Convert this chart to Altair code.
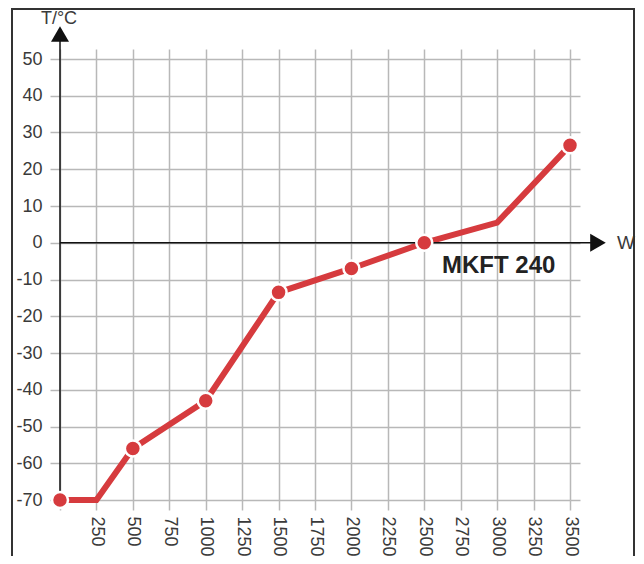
import altair as alt
import pandas as pd

# Data
power = [0, 250, 500, 1000, 1500, 2000, 2500, 3000, 3500]
temp = [-70, -70, -56, -43, -13.5, -7, 0, 5.5, 26.5]
marker = [True, False, True, True, True, True, True, False, True]

x_ticks = list(range(0, 3501, 250))
y_ticks = list(range(-70, 51, 10))

series_label = "MKFT 240"
x_title = "W"
y_title = "T/°C"

df = pd.DataFrame({"P": power, "T": temp, "m": marker})
one = pd.DataFrame({"k": [0]})

FONT = "Liberation Sans"
RED = "#d63b3e"
GRID = "#b8b8b8"
TXT = "#3a3a3a"
AX = "#111111"

xs = alt.Scale(domain=[0, 3500], nice=False, zero=False)
ys = alt.Scale(domain=[-70, 50], nice=False, zero=False)

common = dict(
    gridColor=GRID, gridWidth=1.5, tickColor=GRID, tickWidth=1.5, tickSize=10,
    domain=False, labelFont=FONT, labelFontSize=18, labelColor=TXT,
    labelOverlap=False, labelFlush=False, title=None,
)

base = alt.Chart(df)

line = base.mark_line(color=RED, strokeWidth=6, strokeJoin="miter").encode(
    x=alt.X("P:Q", scale=xs, axis=alt.Axis(
        orient="bottom", values=x_ticks, grid=True, labelAngle=90,
        labelAlign="left", labelBaseline="middle", labelPadding=6,
        labelExpr="datum.value == 0 ? '' : '' + datum.value", **common)),
    y=alt.Y("T:Q", scale=ys, axis=alt.Axis(
        orient="left", values=y_ticks, grid=True, labelPadding=8,
        labelExpr="'' + datum.value", **common)),
)

ghost = base.mark_point(opacity=0).encode(
    x=alt.X("P:Q", scale=xs, axis=alt.Axis(
        orient="top", values=x_ticks, grid=False, labels=False, **common)),
    y=alt.Y("T:Q", scale=ys, axis=alt.Axis(
        orient="right", values=y_ticks, grid=False, labels=False, **common)),
)

points = base.transform_filter("datum.m").mark_point(
    shape="circle", filled=True, fill=RED, stroke="white", strokeWidth=2.5,
    size=256, opacity=1,
).encode(
    x=alt.X("P:Q", scale=xs, axis=None),
    y=alt.Y("T:Q", scale=ys, axis=None),
)

deco = alt.Chart(one)

# axis lines with arrows
yline = deco.mark_rule(color=AX, strokeWidth=1.5).encode(
    x=alt.value(0), y=alt.value(-18), y2=alt.value(441))
yarrow = deco.mark_point(shape="triangle-up", filled=True, fill=AX,
                         opacity=1, size=324, strokeWidth=0).encode(
    x=alt.value(0), y=alt.value(-25))
xline = deco.mark_rule(color=AX, strokeWidth=1.5).encode(
    x=alt.value(0), x2=alt.value(532), y=alt.YDatum(0, scale=ys, axis=None))
xarrow = deco.mark_point(shape="triangle-right", filled=True, fill=AX,
                         opacity=1, size=324, strokeWidth=0).encode(
    x=alt.value(538), y=alt.YDatum(0, scale=ys, axis=None))

xlab = deco.mark_text(text=x_title, font=FONT, fontSize=19, color=TXT,
                      align="left", baseline="middle").encode(
    x=alt.value(557), y=alt.YDatum(0, scale=ys, axis=None))
ylab = deco.mark_text(text=y_title, font=FONT, fontSize=18, color=TXT,
                      align="center", baseline="alphabetic").encode(
    x=alt.value(-1), y=alt.value(-35))

name = deco.mark_text(text=series_label, font=FONT, fontSize=24,
                      fontWeight="bold", color="#222222",
                      align="left", baseline="alphabetic").encode(
    x=alt.value(382), y=alt.value(214))

frame = deco.mark_rect(fill="transparent", stroke="#333333",
                       strokeWidth=2).encode(
    x=alt.value(-48), x2=alt.value(574), y=alt.value(-50), y2=alt.value(620))

chart = alt.layer(
    line, ghost, yline, xline, yarrow, xarrow, points, xlab, ylab, name, frame
).resolve_axis(x="independent", y="independent").properties(
    width=510, height=441,
    padding={"left": 52, "top": 51, "right": 66, "bottom": 56},
    autosize=alt.AutoSizeParams(type="none"),
    background="white",
).configure_view(stroke=None)

chart.save("out.html", embed_options={"renderer": "svg", "actions": False})
